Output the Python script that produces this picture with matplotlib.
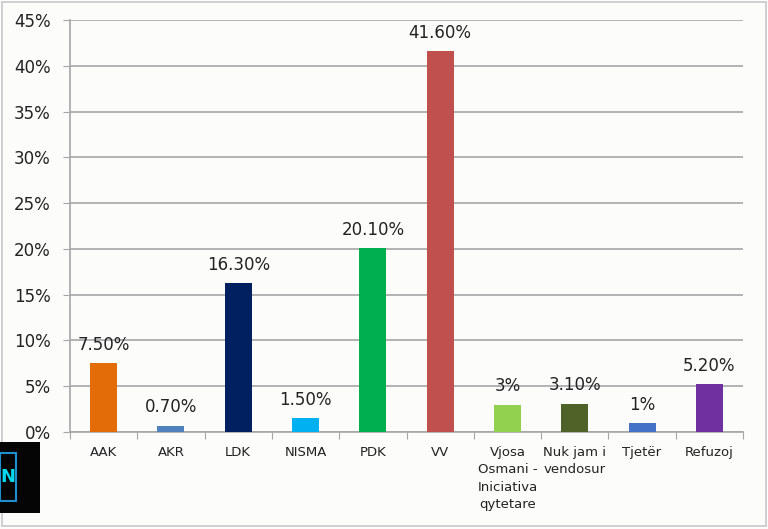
import matplotlib.pyplot as plt
import matplotlib.patches as patches
import numpy as np
from matplotlib.ticker import FuncFormatter, FixedLocator

parties = ["AAK", "AKR", "LDK", "NISMA", "PDK", "VV",
           "Vjosa\nOsmani -\nIniciativa\nqytetare", "Nuk jam i\nvendosur",
           "Tjetër", "Refuzoj"]
shares = [7.5, 0.7, 16.3, 1.5, 20.1, 41.6, 3.0, 3.1, 1.0, 5.2]
share_labels = ["7.50%", "0.70%", "16.30%", "1.50%", "20.10%", "41.60%",
                "3%", "3.10%", "1%", "5.20%"]
bar_colors = ["#E36C09", "#4F81BD", "#002060", "#00B0F0", "#00B050",
              "#C0504D", "#92D050", "#4F6228", "#4472C4", "#7030A0"]

bg = "#FCFCFA"
grid_col = "#A6A6A6"

fig = plt.figure(figsize=(7.68, 5.29), dpi=100, facecolor=bg)
ax = fig.add_axes([70 / 768, 97 / 529, 673 / 768, 412 / 529])
ax.set_facecolor(bg)

x = np.arange(len(parties))
ax.bar(x, shares, width=0.4, color=bar_colors, zorder=3)

for xi, val, lab in zip(x, shares, share_labels):
    ax.text(xi, val + 1.0, lab, ha="center", va="bottom",
            fontsize=12, color="#222222")

ax.set_xlim(-0.5, len(parties) - 0.5)
ax.set_ylim(0, 45)
ax.set_yticks(np.arange(0, 46, 5))
ax.yaxis.set_major_formatter(FuncFormatter(lambda v, p: f"{v:.0f}%"))
ax.yaxis.grid(True, color=grid_col, linewidth=1.2, zorder=0)
ax.tick_params(axis="y", labelsize=12, length=5, color=grid_col,
               labelcolor="#222222", pad=9)

# category boundaries carry the ticks, centres carry the labels
ax.xaxis.set_major_locator(FixedLocator(np.arange(-0.5, len(parties), 1.0)))
ax.xaxis.set_major_formatter(FuncFormatter(lambda v, p: ""))
ax.xaxis.set_minor_locator(FixedLocator(x))
ax.set_xticklabels(parties, minor=True)
ax.tick_params(axis="x", which="major", length=5, color=grid_col)
ax.tick_params(axis="x", which="minor", length=0, labelsize=9.5,
               labelcolor="#222222", pad=10)
for t in ax.get_xticklabels(minor=True):
    t.set_linespacing(1.45)

for side in ["top", "right"]:
    ax.spines[side].set_visible(False)
for side in ["left", "bottom"]:
    ax.spines[side].set_color(grid_col)
    ax.spines[side].set_linewidth(1.2)

# frame around the picture
fig.add_artist(patches.Rectangle((0.002, 0.006), 0.995, 0.99,
                                 transform=fig.transFigure, fill=False,
                                 edgecolor="#C8C8C8", linewidth=1.2))

# channel logo in the bottom-left corner
fig.add_artist(patches.Rectangle((0, 16 / 529), 40 / 768, 71 / 529,
                                 transform=fig.transFigure,
                                 facecolor="#050505", edgecolor="none"))
fig.add_artist(patches.Rectangle((0, 28 / 529), 16 / 768, 48 / 529,
                                 transform=fig.transFigure, fill=False,
                                 edgecolor="#1E90D0", linewidth=1.5))
fig.text(8 / 768, 52 / 529, "N", color="#00D8F0", fontsize=13,
         fontweight="bold", ha="center", va="center")

fig.savefig("out.png", dpi=100, facecolor=bg)
